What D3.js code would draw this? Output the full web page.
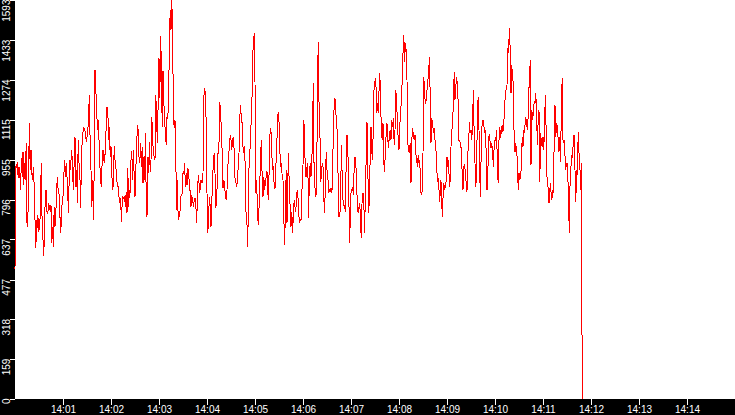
<!DOCTYPE html>
<html>
<head>
<meta charset="utf-8">
<script src="https://cdn.jsdelivr.net/npm/d3@7"></script>
<style>
  html, body { margin: 0; padding: 0; background: #000; }
  svg { display: block; }
</style>
</head>
<body>
<svg id="chart" width="735" height="415"></svg>
<script>
// one reading per second, starting 14:00:00
const startTime = new Date(2020, 0, 1, 14, 0, 0);
const stepSeconds = 1;

const values = [
  519, 928, 925, 948, 881, 928, 901, 835, 961, 888,
  988, 855, 941, 874, 1021, 701, 688, 914, 1101, 914,
  994, 901, 874, 928, 848, 715, 602, 695, 735, 668,
  721, 675, 841, 941, 668, 635, 569, 701, 828, 835,
  748, 741, 781, 768, 748, 775, 622, 688, 608, 768,
  688, 735, 835, 888, 828, 821, 748, 661, 708, 795,
  808, 888, 954, 888, 941, 888, 808, 741, 954, 914,
  954, 994, 901, 835, 954, 1047, 848, 914, 781, 1034,
  941, 914, 761, 941, 1034, 1067, 1087, 1074, 1067, 1028,
  1047, 1067, 1141, 1214, 1008, 914, 768, 874, 715, 914,
  1314, 1234, 1167, 1074, 1114, 1034, 941, 874, 848, 954,
  994, 954, 941, 1008, 1087, 1167, 1154, 1034, 1087, 968,
  1008, 901, 835, 861, 1008, 954, 928, 888, 848, 848,
  808, 781, 801, 708, 781, 808, 801, 808, 768, 828,
  741, 921, 768, 835, 821, 954, 988, 874, 994, 888,
  808, 914, 1001, 1094, 1074, 968, 941, 1021, 928, 1008,
  861, 968, 874, 1061, 808, 728, 968, 901, 1027, 908,
  954, 1127, 1047, 974, 968, 954, 1214, 1114, 1021, 1194,
  1360, 1200, 1450, 1330, 1087, 1310, 1194, 1107, 1067, 1014,
  1127, 1120, 1207, 1413, 1553, 1473, 1593, 1467, 1141, 1081,
  1114, 961, 755, 874, 715, 728, 728, 808, 814, 821,
  901, 901, 941, 848, 901, 854, 921, 914, 848, 828,
  768, 808, 801, 768, 794, 801, 781, 701, 794, 894,
  861, 821, 874, 874, 861, 901, 1207, 1234, 1227, 1094,
  821, 661, 728, 808, 768, 688, 781, 888, 941, 981,
  901, 761, 794, 881, 1008, 1021, 1187, 1141, 1074, 981,
  841, 874, 854, 808, 794, 834, 928, 968, 1008, 1054,
  1034, 994, 1034, 1047, 988, 881, 868, 848, 868, 928,
  981, 1127, 1174, 1114, 1101, 1008, 981, 1008, 901, 701,
  695, 608, 901, 941, 1014, 1094, 1141, 1380, 1407, 1460,
  1267, 821, 874, 768, 695, 761, 861, 974, 1034, 874,
  808, 888, 834, 868, 888, 908, 821, 794, 987, 1081,
  1067, 981, 914, 928, 848, 841, 928, 981, 1100, 1147,
  1107, 994, 928, 941, 888, 874, 728, 615, 741, 914,
  701, 874, 981, 808, 768, 688, 748, 661, 741, 794,
  768, 748, 821, 828, 794, 728, 708, 715, 715, 874,
  934, 1114, 1047, 888, 928, 888, 941, 721, 888, 941,
  888, 928, 1114, 1260, 848, 841, 808, 841, 1194, 1427,
  1187, 1100, 868, 888, 941, 928, 801, 741, 861, 987,
  914, 894, 821, 834, 828, 841, 821, 874, 1114, 1167,
  1200, 1140, 1114, 1041, 861, 728, 728, 794, 1014, 888,
  794, 774, 768, 748, 954, 1054, 981, 928, 621, 701,
  821, 834, 848, 814, 928, 968, 947, 861, 768, 741,
  768, 781, 688, 641, 821, 821, 788, 661, 821, 968,
  1107, 928, 741, 794, 974, 1087, 987, 954, 1114, 1267,
  1260, 1280, 1140, 1180, 1140, 1227, 1300, 1194, 1067, 1034,
  1100, 941, 908, 994, 1061, 1100, 1034, 1001, 1061, 1074,
  1034, 1114, 1087, 1120, 1014, 1074, 1234, 1180, 1114, 1034,
  994, 1100, 1127, 1207, 1267, 1380, 1453, 1347, 1420, 1393,
  1273, 1021, 994, 981, 1021, 861, 1034, 1081, 1054, 1034,
  1054, 981, 954, 928, 974, 941, 954, 834, 814, 828,
  981, 1287, 1214, 1180, 1194, 1234, 1267, 1300, 1367, 1207,
  1021, 1120, 1100, 1067, 1074, 1034, 1007, 941, 868, 874,
  834, 788, 874, 861, 728, 801, 861, 841, 848, 874,
  968, 928, 954, 848, 874, 1007, 1067, 1107, 1180, 1307,
  1194, 1247, 1287, 1253, 1180, 1034, 1034, 1007, 1001, 894,
  834, 928, 934, 901, 861, 828, 981, 1014, 1107, 1061,
  1074, 1034, 1114, 1234, 1047, 941, 848, 901, 1154, 1207,
  1074, 881, 808, 1074, 1094, 1114, 1094, 1067, 1074, 981,
  834, 888, 1047, 1054, 1021, 1001, 1021, 981, 928, 1014,
  1034, 1034, 1074, 928, 861, 1034, 1087, 1041, 1074, 1094,
  1067, 1100, 1160, 1227, 1234, 1253, 1393, 1387, 1480, 1393,
  1220, 1333, 1273, 1267, 1021, 987, 1021, 981, 961, 834,
  901, 874, 888, 928, 1047, 1007, 1074, 1061, 1127, 1114,
  1087, 1074, 1240, 1247, 1353, 934, 1154, 1114, 1147, 1187,
  1180, 1220, 1127, 1014, 1114, 1154, 868, 1061, 1021, 1007,
  1047, 994, 1114, 1213, 1061, 888, 868, 788, 781, 861,
  828, 794, 834, 821, 1034, 1174, 1047, 1100, 1087, 1034,
  987, 1047, 947, 1187, 1280, 1034, 1021, 1034, 914, 928,
  941, 901, 768, 661, 901, 928, 968, 961, 1047, 1054,
  914, 788, 914, 894, 1067, 981, 941, 834, 941, 45,
  0
];

const yTicks = [0, 159, 318, 477, 637, 796, 955, 1115, 1274, 1433, 1593];
const xTicks = ['14:01', '14:02', '14:03', '14:04', '14:05', '14:06', '14:07',
  '14:08', '14:09', '14:10', '14:11', '14:12', '14:13', '14:14'];
const xDomain = ['14:00', '14:15'];

const parseTime = s => {
  const [h, m] = s.split(':').map(Number);
  return new Date(2020, 0, 1, h, m, 0);
};

const data = values.map((v, i) => ({
  t: new Date(startTime.getTime() + i * stepSeconds * 1000),
  v
}));

const svg = d3.select('#chart');
const W = +svg.attr('width');
const H = +svg.attr('height');
const margin = { top: 0, right: 0, bottom: 16, left: 15 };
const width = W - margin.left - margin.right;
const height = H - margin.top - margin.bottom;

svg.append('rect').attr('width', W).attr('height', H).attr('fill', '#000');
svg.append('rect')
  .attr('x', margin.left).attr('y', margin.top)
  .attr('width', width).attr('height', height)
  .attr('fill', '#fff');

const x = d3.scaleTime()
  .domain(xDomain.map(parseTime))
  .range([margin.left, W - margin.right]);
const y = d3.scaleLinear()
  .domain([0, d3.max(yTicks)])
  .range([margin.top + height, margin.top]);

const line = d3.line()
  .x(d => x(d.t))
  .y(d => y(d.v));

svg.append('path')
  .datum(data)
  .attr('fill', 'none')
  .attr('stroke', '#ff0000')
  .attr('stroke-width', 1)
  .attr('shape-rendering', 'crispEdges')
  .attr('d', line);

// x axis
const xAxis = svg.append('g')
  .attr('transform', `translate(0,${margin.top + height})`)
  .call(d3.axisBottom(x)
    .tickValues(xTicks.map(parseTime))
    .tickFormat(d3.timeFormat('%H:%M'))
    .tickSize(6)
    .tickPadding(1));
xAxis.select('.domain').remove();
xAxis.selectAll('line').attr('stroke', '#fff').attr('shape-rendering', 'crispEdges');
xAxis.selectAll('text')
  .attr('fill', '#fff')
  .style('font-family', '"Liberation Sans", Arial, sans-serif')
  .style('font-size', '10px');

// y axis, labels turned upright along the axis
const yAxis = svg.append('g')
  .attr('transform', `translate(${margin.left},0)`)
  .call(d3.axisLeft(y)
    .tickValues(yTicks)
    .tickFormat(d3.format('d'))
    .tickSize(5));
yAxis.select('.domain').remove();
yAxis.selectAll('line').attr('stroke', '#fff').attr('shape-rendering', 'crispEdges');
yAxis.selectAll('text')
  .attr('fill', '#fff')
  .attr('transform', 'rotate(-90)')
  .attr('text-anchor', 'end')
  .attr('x', 1)
  .attr('y', -5)
  .attr('dy', null)
  .style('font-family', '"Liberation Sans", Arial, sans-serif')
  .style('font-size', '10px');
</script>
</body>
</html>
